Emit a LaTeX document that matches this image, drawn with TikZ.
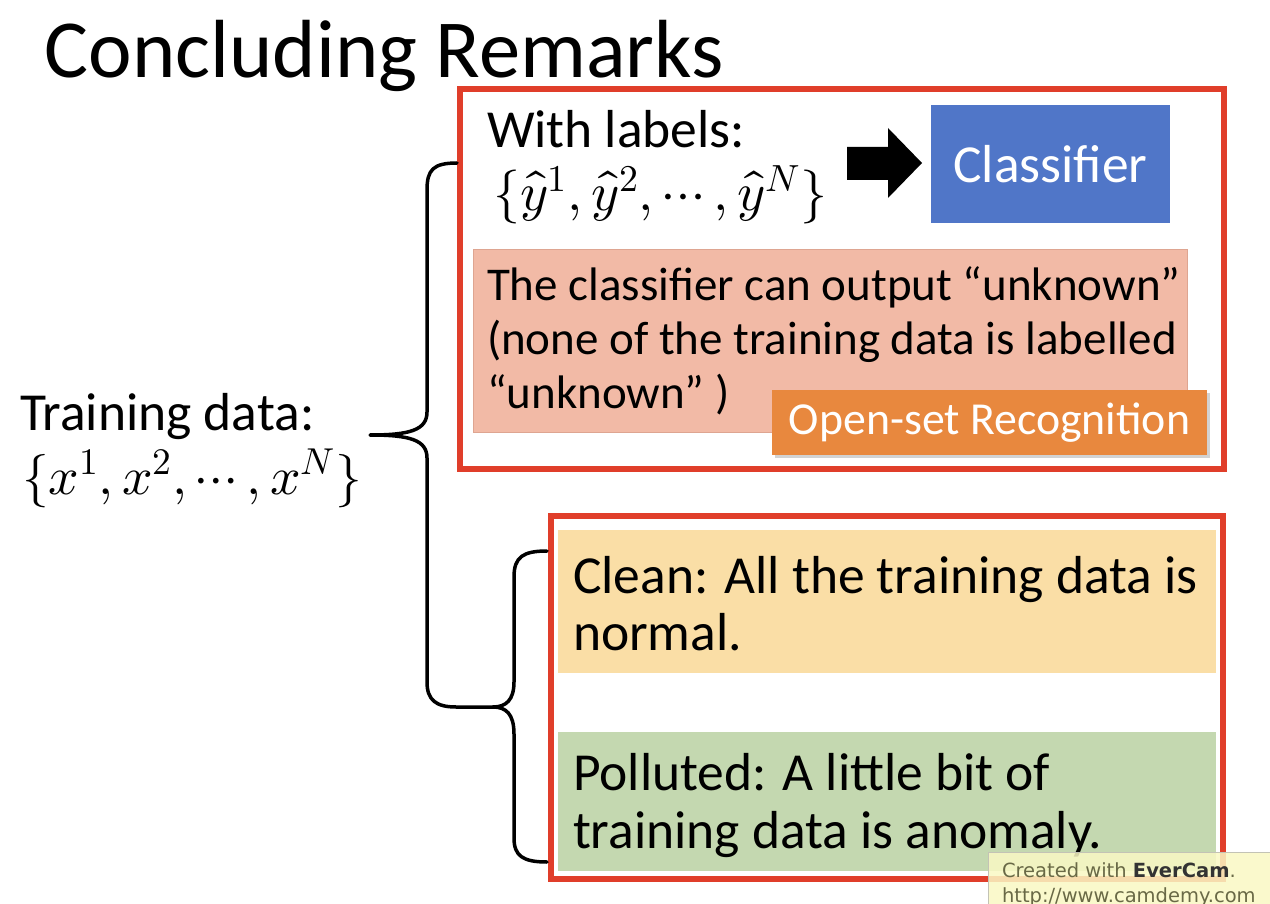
\documentclass[tikz,border=0pt]{standalone}
\usepackage{fontspec}
\usepackage{unicode-math}
\setmainfont{Carlito}
\newfontfamily\wmfont{DejaVu Sans}
\usetikzlibrary{shadows}
\definecolor{redframe}{RGB}{224,62,42}
\definecolor{clsblue}{RGB}{80,118,200}
\definecolor{salmon}{RGB}{242,186,166}
\definecolor{salmonline}{RGB}{222,165,145}
\definecolor{osorange}{RGB}{232,136,62}
\definecolor{cleanyellow}{RGB}{250,222,166}
\definecolor{pollgreen}{RGB}{196,216,176}
\definecolor{wmfill}{RGB}{250,248,196}
\definecolor{wmtext}{RGB}{105,105,70}
\tikzset{
  frame/.style={draw=redframe, line width=6, inner sep=0, outer sep=0, anchor=north west},
  panel/.style={inner sep=0, outer sep=0, anchor=north west},
  txt/.style={anchor=base west, inner sep=0, outer sep=0},
  brace/.style={draw=black, line width=3.5, line cap=round, line join=round},
}
\begin{document}
\begin{tikzpicture}[x=1pt,y=-1pt]
\useasboundingbox (0,0) rectangle (1270,904);
\fill[white] (0,0) rectangle (1270,904);

% title
\node[txt, font=\fontsize{82.5}{99}\selectfont] (title) at (45,78) {Concluding Remarks};

% left text
\node[txt, font=\fontsize{53.5}{64}\selectfont] (train) at (20,430) {Training data:};
\node[txt, font=\fontsize{53.5}{64}\selectfont] (xset) at (22,494) {$\{x^1,x^2,\cdots,x^N\}$};

% top frame and content
\node[frame, minimum width=764, minimum height=380] (topframe) at (460,89) {};
\node[txt, font=\fontsize{53.5}{64}\selectfont] (withlab) at (487,148) {With labels:};
\node[txt, font=\fontsize{54}{64}\selectfont] (yset) at (493,211) {$\{\hat{y}^1,\hat{y}^2,\cdots,\hat{y}^N\}$};
\fill[black] (847,147) -- (888,147) -- (888,128) -- (922,163) -- (888,198) -- (888,180) -- (847,180) -- cycle;
\node[panel, fill=clsblue, minimum width=239, minimum height=118] (cls) at (931,105) {};
\node[text=white, font=\fontsize{53.5}{64}\selectfont, inner sep=0] at (cls.center) {Classifier};

\node[panel, fill=salmon, draw=salmonline, line width=1, minimum width=714, minimum height=182] (salm) at (473,250) {};
\node[txt, font=\fontsize{47}{56}\selectfont] (l1) at (487,301) {The classifier can output “unknown”};
\node[txt, font=\fontsize{47}{56}\selectfont] (l2) at (487,355) {(none of the training data is labelled};
\node[txt, font=\fontsize{47}{56}\selectfont] (l3) at (487,408) {“unknown” )};
\node[panel, fill=osorange, minimum width=435, minimum height=65,
      drop shadow={opacity=0.35, shadow xshift=3pt, shadow yshift=-3pt}] (osr) at (772,390) {};
\node[text=white, font=\fontsize{45.8}{55}\selectfont, inner sep=0] at (osr.center) {Open-set Recognition};

% bottom frame and content
\node[frame, minimum width=672, minimum height=363] (botframe) at (551,516) {};
\node[panel, fill=cleanyellow, minimum width=658, minimum height=143] (clean) at (558,530) {};
\node[panel, fill=pollgreen, minimum width=658, minimum height=139] (poll) at (558,732) {};
\node[txt, font=\fontsize{53.5}{64}\selectfont] (c1) at (573,593) {Clean: All the training data is};
\node[txt, font=\fontsize{53.5}{64}\selectfont] (c2) at (573,650) {normal.};
\node[txt, font=\fontsize{53.5}{64}\selectfont] (p1) at (573,790) {Polluted: A little bit of};
\node[txt, font=\fontsize{53.5}{64}\selectfont] (p2) at (573,848) {training data is anomaly.};

% braces
\draw[brace] (457,163) .. controls (433,163) and (427,170) .. (427,190) -- (427,412)
  .. controls (427,430) and (410,435) .. (370,435)
  .. controls (410,435) and (427,440) .. (427,458) -- (427,682)
  .. controls (427,700) and (436,707) .. (456,707) -- (493,707);
\draw[brace] (547,551) .. controls (523,551) and (514,557) .. (514,577) -- (514,682)
  .. controls (514,700) and (506,707) .. (493,707)
  .. controls (506,707) and (514,714) .. (514,734) -- (514,838)
  .. controls (514,856) and (523,862) .. (547,862);

% watermark
\node[panel, fill=wmfill, fill opacity=0.85, draw=wmtext!40, line width=1,
      minimum width=300, minimum height=60] (wm) at (988,852) {};
\node[txt, text=wmtext, font=\wmfont\fontsize{19.5}{23}\selectfont] (wm1) at (1002,877) {Created with \textbf{\color{black!80}EverCam}.};
\node[txt, text=wmtext, font=\wmfont\fontsize{19.5}{23}\selectfont] (wm2) at (1002,902) {http://www.camdemy.com};
\end{tikzpicture}
\end{document}
